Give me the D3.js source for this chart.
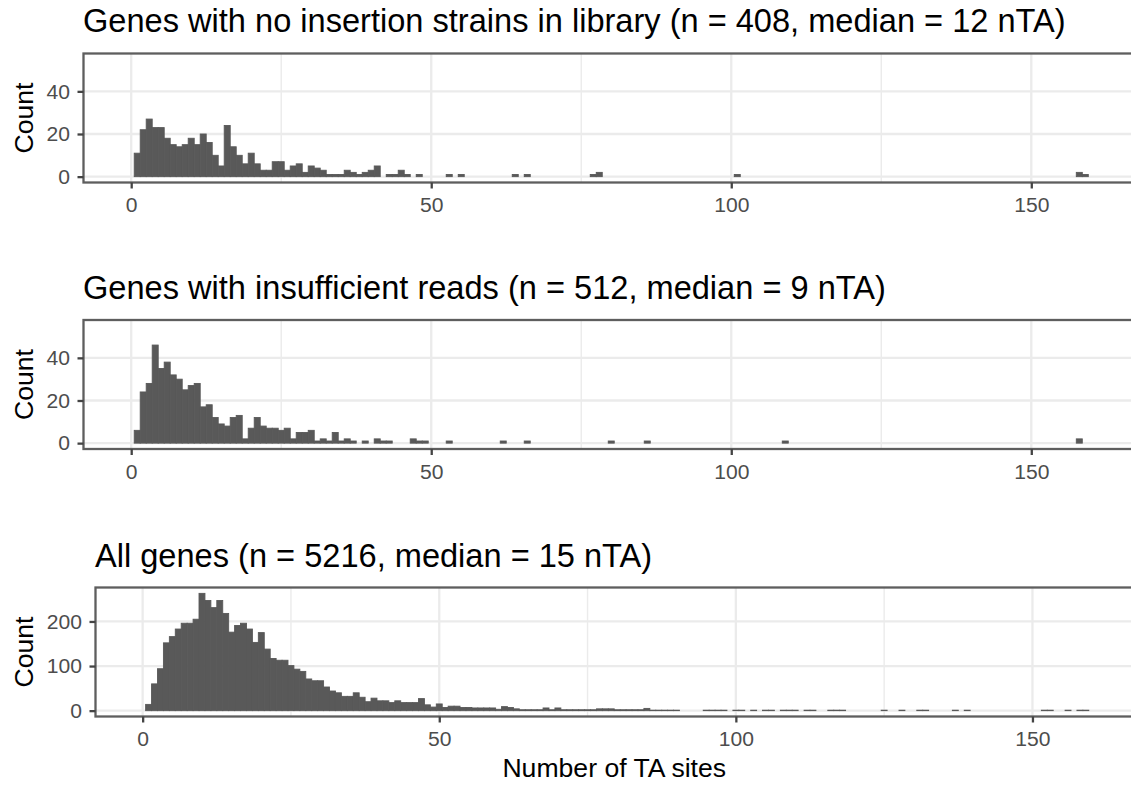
<!DOCTYPE html>
<html>
<head>
<meta charset="utf-8">
<script src="https://cdn.jsdelivr.net/npm/d3@7"></script>
<style>
  html, body { margin: 0; padding: 0; background: #ffffff; }
  svg { display: block; font-family: "Liberation Sans", Arial, Helvetica, sans-serif; }
</style>
</head>
<body>
<svg id="chart" width="1131" height="787"></svg>
<script>
// ---- Data -------------------------------------------------------------
// Shared x axis (number of TA sites per gene)
const siteTicks = [0, 50, 100, 150];
const siteMinorTicks = [25, 75, 125];
const siteLimits = [0, 159];

// Genes with no insertion strains in library: gene counts for 1..48 TA sites
const noInsertionCounts = [
  11, 22, 27, 23, 23, 18, 15, 14, 15, 18,
  15, 20, 16, 10, 5, 24, 14, 10, 6, 11,
  6, 3, 3, 7, 7, 3, 5, 6, 2, 5,
  4, 3, 1, 1, 1, 3, 2, 1, 2, 3,
  5, 0, 1, 1, 3, 1, 0, 1
];
const noInsertionTailSites = [53, 55, 64, 66, 77, 78, 101, 158, 159];
const noInsertionTailCounts = [1, 1, 1, 1, 1, 2, 1, 2, 1];
const noInsertionTicks = [0, 20, 40];

// Genes with insufficient reads: gene counts for 1..49 TA sites
const lowReadCounts = [
  6, 24, 28, 46, 35, 38, 32, 30, 25, 27,
  28, 17, 18, 12, 9, 8, 12, 13, 2, 7,
  12, 8, 7, 7, 6, 7, 2, 5, 5, 6,
  1, 2, 1, 5, 1, 2, 1, 0, 1, 0,
  2, 1, 1, 0, 0, 0, 2, 1, 1
];
const lowReadTailSites = [53, 62, 66, 80, 86, 109, 158];
const lowReadTailCounts = [1, 1, 1, 1, 1, 1, 2];
const lowReadTicks = [0, 20, 40];

// All genes: gene counts for 1..90 TA sites
const allGeneCounts = [
  14, 60, 94, 152, 166, 183, 196, 196, 205, 263,
  247, 231, 247, 218, 176, 191, 196, 183, 153, 175,
  138, 117, 113, 113, 101, 93, 88, 71, 67, 67,
  53, 44, 40, 32, 32, 40, 30, 20, 28, 22,
  22, 18, 22, 18, 18, 18, 27, 13, 8, 15,
  7, 10, 10, 7, 7, 6, 6, 6, 6, 3,
  9, 7, 4, 2, 2, 2, 2, 6, 2, 6,
  2, 2, 2, 2, 2, 2, 4, 4, 4, 2,
  2, 2, 2, 2, 5, 1, 1, 1, 1, 1
];
const allGeneTailSites = [95, 96, 97, 98, 100, 101, 103, 105, 106, 108, 109, 110, 112, 113,
  116, 117, 118, 125, 128, 131, 132, 137, 139, 152, 153, 156, 158, 159];
const allGeneTailCounts = [1, 1, 1, 1, 1, 1, 1, 1, 1, 1, 1, 1, 1, 1,
  1, 1, 1, 1, 1, 1, 1, 1, 1, 1, 1, 1, 1, 1];
const allGeneTicks = [0, 100, 200];

const panelTitles = [
  "Genes with no insertion strains in library (n = 408, median = 12 nTA)",
  "Genes with insufficient reads (n = 512, median = 9 nTA)",
  "All genes (n = 5216, median = 15 nTA)"
];
const panelYMax = [55, 55, 263];
const yLabel = "Count";
const xLabel = "Number of TA sites";

// ---- Layout -----------------------------------------------------------
const panels = [
  { counts: noInsertionCounts, tailSites: noInsertionTailSites, tailCounts: noInsertionTailCounts,
    yTicks: noInsertionTicks, left: 83.5, top: 53.5, titleY: 32 },
  { counts: lowReadCounts, tailSites: lowReadTailSites, tailCounts: lowReadTailCounts,
    yTicks: lowReadTicks, left: 83.5, top: 320, titleY: 299 },
  { counts: allGeneCounts, tailSites: allGeneTailSites, tailCounts: allGeneTailCounts,
    yTicks: allGeneTicks, left: 95.5, top: 587.5, titleY: 566.5 }
];
const panelRight = 1133;
const panelH = 129;

const tickFont = 21.1;
const axisTitleFont = 26.6;
const titleFont = 32.6;
const lineW = 2.3;

// ggplot-style 5% padding of a continuous range
function expand([a, b], f = 0.05) {
  const pad = (b - a) * f;
  return [a - pad, b + pad];
}

const svg = d3.select("#chart");

panels.forEach((p, i) => {
  const g = svg.append("g");
  const bottom = p.top + panelH;

  const x = d3.scaleLinear().domain(expand(siteLimits)).range([p.left, panelRight]);
  const y = d3.scaleLinear().domain(expand([0, panelYMax[i]])).range([bottom, p.top]);

  // panel background
  g.append("rect")
    .attr("x", p.left).attr("y", p.top)
    .attr("width", panelRight - p.left).attr("height", panelH)
    .attr("fill", "#ffffff");

  // grid lines
  g.selectAll("line.vminor").data(siteMinorTicks).join("line")
    .attr("x1", d => x(d)).attr("x2", d => x(d))
    .attr("y1", p.top).attr("y2", bottom)
    .attr("stroke", "#EBEBEB").attr("stroke-width", 1.4);
  g.selectAll("line.vmajor").data(siteTicks).join("line")
    .attr("x1", d => x(d)).attr("x2", d => x(d))
    .attr("y1", p.top).attr("y2", bottom)
    .attr("stroke", "#EBEBEB").attr("stroke-width", 2.3);
  g.selectAll("line.hmajor").data(p.yTicks).join("line")
    .attr("x1", p.left).attr("x2", panelRight)
    .attr("y1", d => y(d)).attr("y2", d => y(d))
    .attr("stroke", "#EBEBEB").attr("stroke-width", 2.3);

  // histogram bars, one per TA-site count (bin width 1)
  const bins = p.counts.map((c, k) => ({ site: k + 1, count: c }))
    .concat(p.tailSites.map((s, k) => ({ site: s, count: p.tailCounts[k] })))
    .filter(d => d.count > 0);

  g.selectAll("rect.bar").data(bins).join("rect")
    .attr("class", "bar")
    .attr("x", d => x(d.site - 0.5))
    .attr("width", d => x(d.site + 0.5) - x(d.site - 0.5))
    .attr("y", d => y(d.count))
    .attr("height", d => y(0) - y(d.count))
    .attr("fill", "#595959")
    .attr("stroke", "#595959")
    .attr("stroke-width", 0.9);

  // panel border
  g.append("rect")
    .attr("x", p.left).attr("y", p.top)
    .attr("width", panelRight - p.left).attr("height", panelH)
    .attr("fill", "none").attr("stroke", "#5e5e5e").attr("stroke-width", lineW);

  // x axis
  const xAxis = g.append("g")
    .attr("transform", `translate(0,${bottom})`)
    .call(d3.axisBottom(x).tickValues(siteTicks).tickSize(6).tickPadding(8.6));
  // y axis
  const yAxis = g.append("g")
    .attr("transform", `translate(${p.left},0)`)
    .call(d3.axisLeft(y).tickValues(p.yTicks).tickSize(6).tickPadding(7.5));

  [xAxis, yAxis].forEach(ax => {
    ax.select(".domain").remove();
    ax.selectAll(".tick line").attr("stroke", "#444444").attr("stroke-width", lineW);
    ax.selectAll(".tick text")
      .attr("fill", "#4D4D4D")
      .style("font-size", tickFont + "px")
      .style("font-family", '"Liberation Sans", Arial, sans-serif');
  });

  // panel title
  g.append("text")
    .attr("x", p.left - 0.5).attr("y", p.titleY)
    .attr("fill", "#000000")
    .style("font-size", titleFont + "px")
    .text(panelTitles[i]);

  // y axis title
  g.append("text")
    .attr("transform", `translate(33,${p.top + panelH / 2}) rotate(-90)`)
    .attr("text-anchor", "middle")
    .attr("fill", "#000000")
    .style("font-size", axisTitleFont + "px")
    .text(yLabel);

  // x axis title under the last panel
  if (i === panels.length - 1) {
    g.append("text")
      .attr("x", (p.left + panelRight) / 2).attr("y", 777)
      .attr("text-anchor", "middle")
      .attr("fill", "#000000")
      .style("font-size", axisTitleFont + "px")
      .text(xLabel);
  }
});
</script>
</body>
</html>
